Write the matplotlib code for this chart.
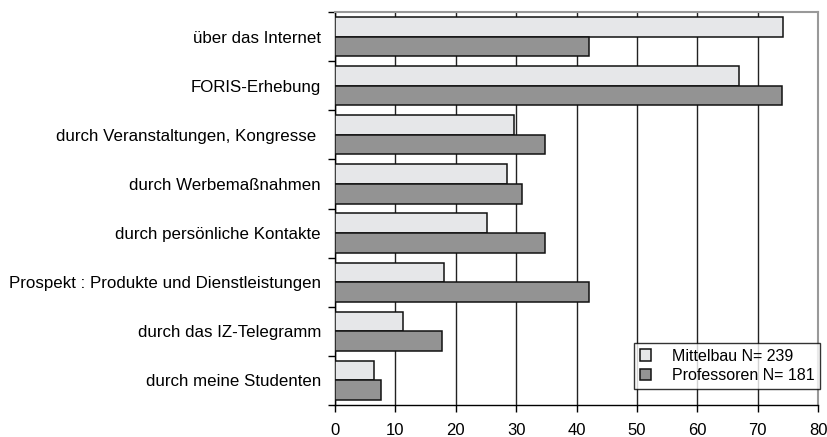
import numpy as np
import matplotlib.pyplot as plt
from matplotlib.ticker import FixedLocator

plt.rcParams['font.family'] = ['Liberation Sans', 'DejaVu Sans']

# Kategorien von oben nach unten
kategorien = [
    "über das Internet",
    "FORIS-Erhebung",
    "durch Veranstaltungen, Kongresse ",
    "durch Werbemaßnahmen",
    "durch persönliche Kontakte",
    "Prospekt : Produkte und Dienstleistungen",
    "durch das IZ-Telegramm",
    "durch meine Studenten",
]
mittelbau = [74.2, 66.9, 29.7, 28.5, 25.1, 18.0, 11.3, 6.4]
professoren = [42.0, 74.1, 34.8, 30.9, 34.8, 42.0, 17.7, 7.7]
x_ticks = [0, 10, 20, 30, 40, 50, 60, 70, 80]

fig = plt.figure(figsize=(8.27, 4.37), dpi=100)
ax = fig.add_axes([335 / 827, 1 - 405 / 437, 483 / 827, 393 / 437])

n = len(kategorien)
pos = np.arange(n)
h = 0.4
ax.barh(pos - h / 2, mittelbau, height=h, color="#e6e7e9", edgecolor="#111111",
        linewidth=1.1, label="Mittelbau N= 239", zorder=3)
ax.barh(pos + h / 2, professoren, height=h, color="#939393", edgecolor="#111111",
        linewidth=1.1, label="Professoren N= 181", zorder=3)

ax.set_xlim(0, 80)
ax.set_ylim(n - 0.5, -0.5)
ax.set_xticks(x_ticks)
ax.tick_params(axis="x", length=5, width=1, labelsize=12, pad=8, colors="black")

ax.set_yticks(pos)
ax.set_yticklabels(kategorien, fontsize=12.2)
ax.tick_params(axis="y", which="major", length=0, pad=10)
ax.yaxis.set_minor_locator(FixedLocator(np.arange(-0.5, n + 0.5, 1)))
ax.tick_params(axis="y", which="minor", length=5, width=1)

ax.grid(axis="x", color="#222222", linewidth=1, zorder=0)
for s in ["top", "right"]:
    ax.spines[s].set_color("#999999")
    ax.spines[s].set_linewidth(1.5)
for s in ["left", "bottom"]:
    ax.spines[s].set_color("black")
    ax.spines[s].set_linewidth(1)

leg = ax.legend(loc="lower right", bbox_to_anchor=(1.004, 0.041), borderaxespad=0,
                fontsize=11.5, frameon=True, fancybox=False, edgecolor="black",
                handlelength=0.7, handleheight=0.7, handletextpad=1.3,
                borderpad=0.35, labelspacing=0.3)
leg.get_frame().set_linewidth(1)
leg.set_zorder(5)

fig.savefig("out.png", dpi=100)
